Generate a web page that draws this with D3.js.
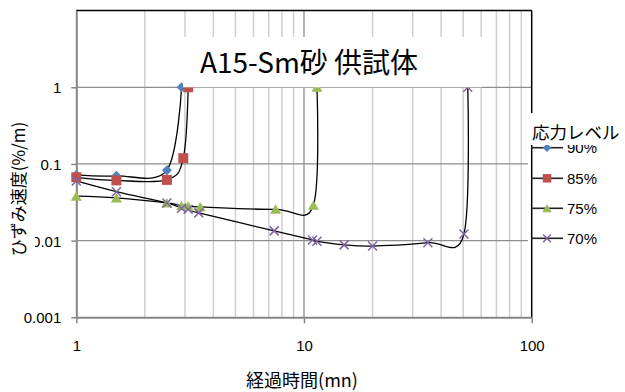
<!DOCTYPE html>
<html><head><meta charset="utf-8">
<script src="https://cdn.jsdelivr.net/npm/d3@7"></script>
<style>body{margin:0;background:#fff}svg{display:block}</style>
</head><body>
<svg id="c" width="625" height="392"></svg>
<script>
// ---- data ----
const seriesNames = ["90%", "85%", "75%", "70%"];
const x90 = [1, 1.5, 2.5, 2.9];
const y90 = [0.072, 0.07, 0.083, 1.0];
const x85 = [1, 1.5, 2.5, 2.95, 3.1];
const y85 = [0.067, 0.061, 0.062, 0.119, 1.0];
const x75 = [1, 1.5, 2.5, 2.9, 3.1, 3.5, 7.5, 11, 11.4];
const y75 = [0.038, 0.036, 0.031, 0.0285, 0.028, 0.0275, 0.0256, 0.029, 1.0];
const x70 = [1, 1.5, 2.5, 2.9, 3.1, 3.45, 7.4, 10.9, 11.4, 15, 20, 35, 50.4, 52.4];
const y70 = [0.06, 0.0435, 0.031, 0.0264, 0.0256, 0.023, 0.0134, 0.0102, 0.0098, 0.0088, 0.0085, 0.0094, 0.0122, 1.0];
const xTicks = [1, 10, 100];
const xTickLabels = ["1", "10", "100"];
const yTicks = [0.001, 0.01, 0.1, 1];
const yTickLabels = ["0.001", "0.01", "0.1", "1"];
const xMinor = [2,3,4,5,6,7,8,9,20,30,40,50,60,70,80,90];
const title = "A15-Sm砂 供試体";
const xTitle = "経過時間(mn)";
const yTitle = "ひずみ速度(%/m)";
const legendTitle = "応力レベル";

const colors = ["#4F81BD", "#C0504D", "#9BBB59", "#8064A2"];
const shapes = ["M0,-5L5,0L0,5L-5,0Z", "M-5,-5H5V5H-5Z", "M0,-5L5.5,4.5L-5.5,4.5Z", "M-4.5,-4.5L4.5,4.5M-4.5,4.5L4.5,-4.5"];
const seriesX = [x90, x85, x75, x70];
const seriesY = [y90, y85, y75, y70];

const L = 76.3, R = 531.7, T = 10.6, B = 317.3;
const x = d3.scaleLog().domain([1, 100]).range([L, R]);
const y = d3.scaleLog().domain([0.001, 10]).range([B, T]);
const svg = d3.select("#c");
const latin = "'Liberation Sans', Arial, sans-serif";
const cjk = "'Noto Sans CJK JP', sans-serif";

// minor vertical grid
svg.append("g").selectAll("line").data(xMinor).join("line")
  .attr("x1", d => x(d)).attr("x2", d => x(d)).attr("y1", T).attr("y2", B)
  .attr("stroke", "#cfcfcf").attr("stroke-width", 1.5);
// major grid
svg.append("g").selectAll("line").data([10]).join("line")
  .attr("x1", d => x(d)).attr("x2", d => x(d)).attr("y1", T).attr("y2", B)
  .attr("stroke", "#8e8e8e").attr("stroke-width", 1.3);
svg.append("g").selectAll("line").data([0.01, 0.1, 1]).join("line")
  .attr("x1", L).attr("x2", R).attr("y1", d => y(d)).attr("y2", d => y(d))
  .attr("stroke", "#8e8e8e").attr("stroke-width", 1.3);

// legend background
svg.append("rect").attr("x", 528).attr("y", 143).attr("width", 97).attr("height", 112).attr("fill", "#fff");

// borders
svg.append("line").attr("x1", L).attr("x2", R).attr("y1", T).attr("y2", T).attr("stroke", "#000").attr("stroke-width", 1.5);
svg.append("line").attr("x1", R).attr("x2", R).attr("y1", T).attr("y2", B).attr("stroke", "#000").attr("stroke-width", 1.5);

// axes
const xAxis = d3.axisBottom(x).tickValues(xTicks).tickFormat((d, i) => xTickLabels[i]).tickSize(6).tickSizeOuter(0);
const gx = svg.append("g").attr("transform", `translate(0,${B})`).call(xAxis);
gx.select(".domain").attr("stroke", "#868686").attr("stroke-width", 2);
gx.selectAll(".tick line").attr("stroke", "#868686").attr("stroke-width", 1.5);
gx.selectAll(".tick text").attr("font-family", latin).attr("font-size", 15).attr("fill", "#000").attr("y", 22).attr("dy", 0).attr("dominant-baseline", "auto").attr("transform", "translate(0,12)");
const yAxis = d3.axisLeft(y).tickValues(yTicks).tickFormat((d, i) => yTickLabels[i]).tickSize(5).tickSizeOuter(0);
const gy = svg.append("g").attr("transform", `translate(${L},0)`).call(yAxis);
gy.select(".domain").attr("stroke", "#868686").attr("stroke-width", 2);
gy.selectAll(".tick line").attr("stroke", "#868686").attr("stroke-width", 1.5);
gy.selectAll(".tick text").attr("font-family", latin).attr("font-size", 15).attr("fill", "#000").attr("x", -15).attr("dy", "0.36em");

// series lines
const line = d3.line().x(d => x(d[0])).y(d => y(d[1])).curve(d3.curveCatmullRom.alpha(0));
seriesX.forEach((xs, si) => {
  const pts = xs.map((v, i) => [v, seriesY[si][i]]);
  svg.append("path").attr("d", line(pts)).attr("fill", "none").attr("stroke", "#000").attr("stroke-width", 1.3);
});
// markers
seriesX.forEach((xs, si) => {
  const pts = xs.map((v, i) => [v, seriesY[si][i]]);
  const isX = si === 3;
  svg.append("g").selectAll("path").data(pts).join("path")
    .attr("d", shapes[si])
    .attr("transform", d => `translate(${x(d[0])},${y(d[1])})`)
    .attr("fill", isX ? "none" : colors[si])
    .attr("stroke", isX ? colors[si] : "none")
    .attr("stroke-width", 1.5);
});

// title box
svg.append("rect").attr("x", 183).attr("y", 37).attr("width", 299).attr("height", y(1) - 37).attr("fill", "#fff");
svg.append("text").attr("x", 309).attr("y", 73).attr("text-anchor", "middle")
  .attr("font-family", cjk).attr("font-size", 28).attr("fill", "#000").text(title);

// y title
svg.append("rect").attr("x", 0).attr("y", 112).attr("width", 35).attr("height", 152).attr("fill", "#fff");
svg.append("text").attr("transform", "translate(17,189) rotate(-90)").attr("text-anchor", "middle")
  .attr("dominant-baseline", "central").attr("font-family", cjk).attr("font-size", 17).attr("fill", "#000").text(yTitle);
// x title
svg.append("text").attr("x", 302).attr("y", 387).attr("text-anchor", "middle")
  .attr("font-family", cjk).attr("font-size", 18).attr("fill", "#000").text(xTitle);

// legend
const legY = [147.7, 178.3, 208.3, 238.3];
seriesNames.forEach((n, si) => {
  const g = svg.append("g");
  g.append("line").attr("x1", 531).attr("x2", 563).attr("y1", legY[si]).attr("y2", legY[si]).attr("stroke", "#222").attr("stroke-width", 1.6);
  const isX = si === 3;
  g.append("path").attr("d", shapes[si]).attr("transform", `translate(547,${legY[si]}) scale(0.85)`)
    .attr("fill", isX ? "none" : colors[si]).attr("stroke", isX ? colors[si] : "none").attr("stroke-width", 1.7);
  g.append("text").attr("x", 567).attr("y", legY[si] + 5.5).attr("font-family", latin).attr("font-size", 15).attr("fill", "#000").text(n);
});
svg.append("rect").attr("x", 528).attr("y", 113).attr("width", 97).attr("height", 32).attr("fill", "#fff");
svg.append("text").attr("x", 532).attr("y", 138.5).attr("font-family", cjk).attr("font-size", 17.5).attr("fill", "#000").text(legendTitle);
</script>
</body></html>
